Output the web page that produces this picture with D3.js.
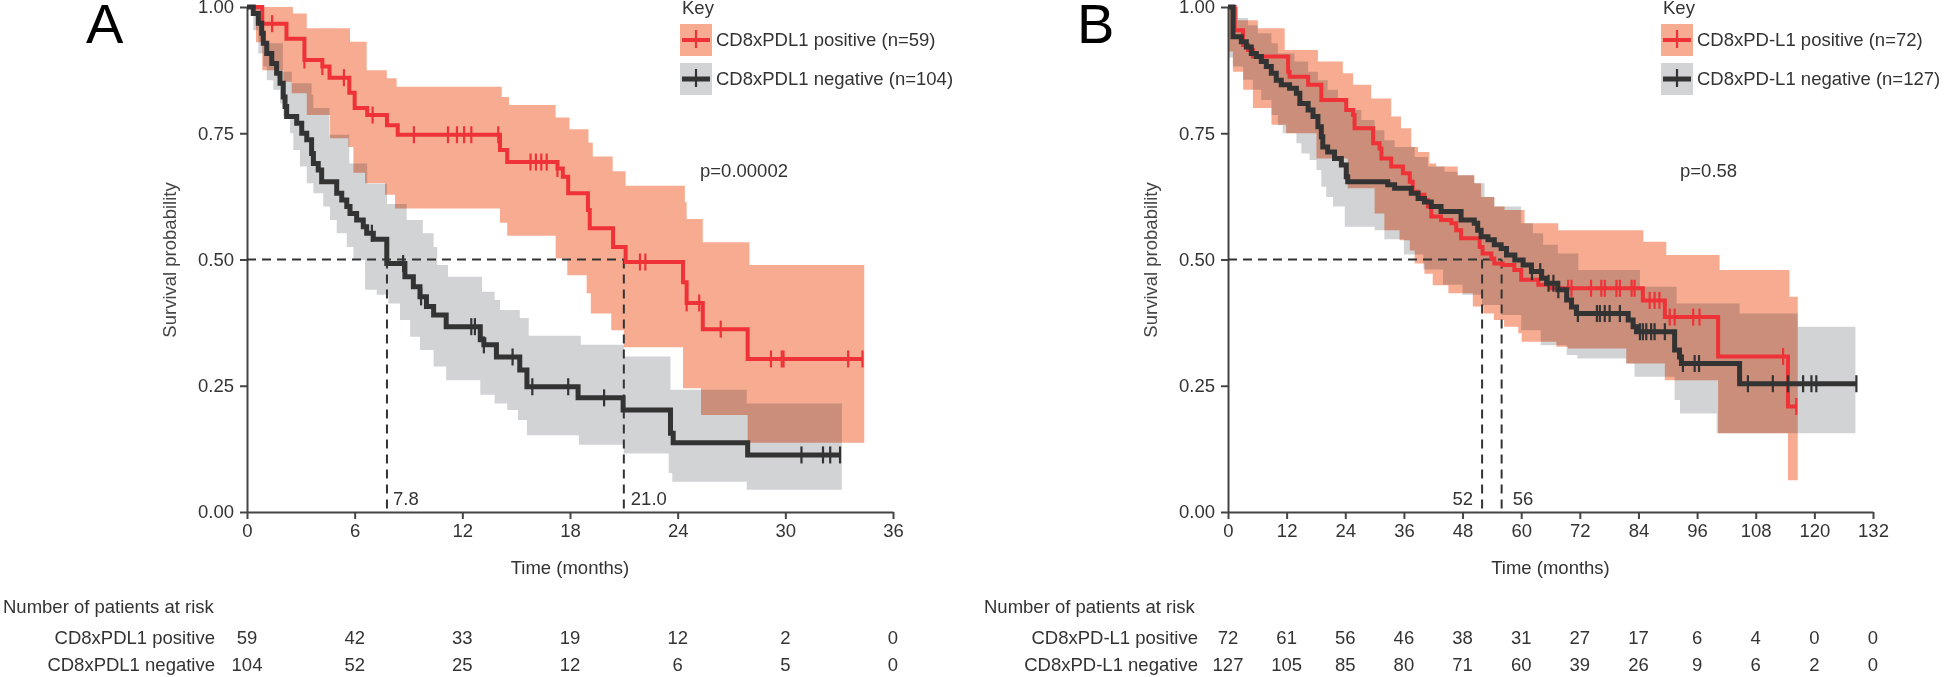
<!DOCTYPE html>
<html><head><meta charset="utf-8">
<script src="https://cdn.jsdelivr.net/npm/d3@7"></script>
<style>
html,body{margin:0;padding:0;background:#fff;}
svg{display:block;background:#fff;font-family:"Liberation Sans",Arial,sans-serif;}
</style></head>
<body>
<svg id="chart" width="1946" height="677"></svg>
<script>
// ---------------- DATA: panel A ----------------
const timeTicksA = [0, 6, 12, 18, 24, 30, 36];
const survTicks = [0, 0.25, 0.5, 0.75, 1];
const labelsA = ["CD8xPDL1 positive (n=59)", "CD8xPDL1 negative (n=104)"];
const riskNamesA = ["CD8xPDL1 positive", "CD8xPDL1 negative"];
const riskPosA = [59, 42, 33, 19, 12, 2, 0];
const riskNegA = [104, 52, 25, 12, 6, 5, 0];
const pValueA = "p=0.00002";
const mediansA = [7.8, 21.0];

const posA_t = [0, 0.85, 2.2, 3.2, 4.2, 4.6, 5.7, 6.0, 6.7, 7.8, 8.4, 14.1, 14.5, 17.3, 17.6, 17.9, 19.0, 19.1, 20.4, 21.1, 24.3, 24.5, 25.4, 27.9];
const posA_s = [1, 0.967, 0.937, 0.895, 0.882, 0.86, 0.83, 0.80, 0.786, 0.766, 0.747, 0.717, 0.693, 0.68, 0.664, 0.631, 0.598, 0.562, 0.525, 0.495, 0.455, 0.414, 0.362, 0.303];
const posA_end = 34.3;
const posA_cens = [1.4, 3.2, 4.2, 5.4, 7.0, 9.3, 11.2, 11.7, 12.1, 12.5, 14.0, 15.8, 16.1, 16.4, 16.7, 17.3, 21.9, 22.2, 24.5, 25.2, 26.4, 29.2, 29.8, 29.9, 33.5, 34.3];
const posA_upT = [0, 2.56, 3.33, 5.74, 6.67, 7.79, 8.34, 14.2, 14.6, 17.2, 17.97, 19.03, 19.27, 20.38, 21.1, 24.4, 24.5, 25.4, 28.0];
const posA_up  = [1, 0.987, 0.958, 0.931, 0.875, 0.859, 0.842, 0.822, 0.806, 0.781, 0.758, 0.731, 0.704, 0.675, 0.646, 0.614, 0.58, 0.534, 0.489];
const posA_loT = [0, 0.5, 0.85, 2.02, 2.49, 3.33, 4.63, 5.65, 5.93, 6.58, 7.69, 8.25, 14.1, 14.5, 17.2, 17.85, 18.93, 19.16, 20.3, 21.0, 24.3, 25.3, 27.9];
const posA_lo  = [1, 0.93, 0.875, 0.852, 0.829, 0.786, 0.74, 0.723, 0.672, 0.651, 0.628, 0.601, 0.573, 0.547, 0.502, 0.469, 0.433, 0.393, 0.360, 0.326, 0.245, 0.192, 0.137];
const posA_bandEnd = 34.4;

const negA_t = [0, 0.35, 0.63, 0.82, 0.91, 1.1, 1.38, 1.65, 1.84, 2.02, 2.12, 2.21, 2.77, 3.05, 3.33, 3.6, 3.7, 3.97, 4.16, 5.0, 5.28, 5.56, 5.74, 6.11, 6.48, 6.67, 7.04, 7.79, 8.8, 9.27, 9.64, 10.0, 10.4, 11.1, 13.0, 13.2, 13.9, 15.2, 15.6, 18.45, 20.96, 23.6, 23.75, 27.9];
const negA_s = [1, 0.987, 0.968, 0.948, 0.928, 0.908, 0.888, 0.869, 0.849, 0.822, 0.803, 0.783, 0.770, 0.750, 0.737, 0.710, 0.690, 0.677, 0.654, 0.631, 0.618, 0.605, 0.591, 0.578, 0.565, 0.552, 0.540, 0.492, 0.466, 0.446, 0.426, 0.407, 0.390, 0.367, 0.341, 0.331, 0.307, 0.281, 0.248, 0.226, 0.202, 0.156, 0.137, 0.113];
const negA_end = 33.05;
const negA_cens = [6.96, 8.7, 9.7, 12.5, 12.7, 13.2, 14.8, 15.9, 17.9, 19.9, 30.9, 32.1, 32.5, 33.05];
const negA_upT = [0, 0.8, 2.0, 2.5, 3.6, 3.7, 4.6, 5.7, 6.7, 7.8, 8.9, 9.8, 10.4, 10.6, 11.2, 13.1, 13.8, 14.1, 15.2, 15.7, 18.6, 21.0, 23.6, 27.85];
const negA_up  = [1, 0.928, 0.872, 0.849, 0.826, 0.80, 0.747, 0.69, 0.65, 0.61, 0.578, 0.552, 0.525, 0.489, 0.466, 0.436, 0.42, 0.40, 0.384, 0.349, 0.331, 0.308, 0.242, 0.215];
const negA_loT = [0, 0.35, 0.63, 0.91, 1.1, 1.47, 1.84, 2.02, 2.4, 2.58, 2.95, 3.33, 3.7, 4.25, 4.63, 5.0, 5.56, 5.93, 6.58, 7.23, 7.88, 8.53, 9.09, 9.64, 10.4, 11.1, 13.0, 13.8, 14.5, 15.1, 15.6, 18.5, 21.0, 23.5, 23.7, 27.85];
const negA_lo  = [1, 0.954, 0.908, 0.882, 0.855, 0.836, 0.809, 0.783, 0.750, 0.717, 0.684, 0.651, 0.631, 0.605, 0.578, 0.552, 0.525, 0.499, 0.440, 0.430, 0.413, 0.380, 0.347, 0.321, 0.288, 0.261, 0.232, 0.215, 0.202, 0.182, 0.152, 0.133, 0.116, 0.077, 0.060, 0.044];
const negA_bandEnd = 33.15;

// ---------------- DATA: panel B ----------------
const timeTicksB = [0, 12, 24, 36, 48, 60, 72, 84, 96, 108, 120, 132];
const labelsB = ["CD8xPD-L1 positive (n=72)", "CD8xPD-L1 negative (n=127)"];
const riskNamesB = ["CD8xPD-L1 positive", "CD8xPD-L1 negative"];
const riskPosB = [72, 61, 56, 46, 38, 31, 27, 17, 6, 4, 0, 0];
const riskNegB = [127, 105, 85, 80, 71, 60, 39, 26, 9, 6, 2, 0];
const pValueB = "p=0.58";
const mediansB = [52, 56];

const posB_t = [0, 1.36, 3.07, 4.09, 5.11, 12.3, 12.6, 16.4, 19.1, 24.2, 25.6, 25.9, 29.7, 31.0, 31.4, 33.4, 35.8, 37.2, 37.8, 38.9, 40.2, 40.9, 41.6, 43.6, 45.7, 46.7, 47.7, 51.5, 52.1, 53.9, 54.5, 56.2, 58.6, 60.0, 63.5, 65.9, 84.9, 89.4, 100.3, 114.6];
const posB_s = [1, 0.954, 0.925, 0.915, 0.902, 0.872, 0.862, 0.846, 0.816, 0.796, 0.786, 0.760, 0.730, 0.720, 0.700, 0.684, 0.671, 0.654, 0.634, 0.628, 0.618, 0.605, 0.585, 0.578, 0.572, 0.558, 0.542, 0.525, 0.512, 0.502, 0.492, 0.489, 0.479, 0.46, 0.45, 0.443, 0.419, 0.386, 0.308, 0.209];
const posB_end = 116.3;
const posB_cens = [69.6, 70.3, 74.3, 76.4, 77.1, 79.5, 80.2, 82.6, 83.2, 86.3, 87.3, 88.3, 90.4, 91.4, 95.2, 96.5, 113.6, 116.3];
const posB_upT = [0, 2.0, 6.1, 11.6, 18.4, 23.5, 25.6, 29.3, 33.4, 35.4, 37.5, 38.9, 41.2, 42.6, 47.0, 50.4, 51.8, 54.5, 56.6, 60.7, 67.6, 85.0, 89.7, 100.6, 114.9];
const posB_up  = [1, 0.974, 0.958, 0.915, 0.892, 0.869, 0.846, 0.819, 0.783, 0.760, 0.723, 0.713, 0.690, 0.684, 0.667, 0.651, 0.624, 0.605, 0.598, 0.572, 0.558, 0.535, 0.509, 0.479, 0.426];
const posB_loT = [0, 1.0, 3.1, 5.1, 8.9, 11.9, 18.1, 24.5, 30.0, 32.0, 35.1, 37.2, 38.2, 40.2, 41.9, 45.1, 50.1, 52.3, 54.4, 56.5, 59.4, 60.1, 67.2, 69.6, 81.5, 89.4, 100.3, 114.6];
const posB_lo  = [0.912, 0.872, 0.836, 0.80, 0.767, 0.75, 0.70, 0.641, 0.591, 0.558, 0.538, 0.518, 0.492, 0.472, 0.449, 0.433, 0.407, 0.393, 0.380, 0.367, 0.354, 0.337, 0.327, 0.324, 0.294, 0.261, 0.156, 0.063];
const posB_bandEnd = 116.6;

const negB_t = [0, 1.02, 2.73, 3.75, 4.77, 5.79, 6.82, 7.84, 8.86, 9.88, 10.9, 12.6, 14.0, 14.7, 16.4, 17.4, 18.4, 19.1, 19.4, 20.4, 21.8, 23.2, 24.2, 24.5, 32.7, 34.1, 37.5, 38.9, 40.2, 41.6, 43.6, 47.7, 50.4, 51.1, 51.8, 53.2, 54.5, 55.9, 57.0, 58.7, 60.4, 62.1, 64.2, 65.2, 67.5, 69.3, 70.3, 71.3, 81.9, 82.9, 83.6, 91.4, 92.4, 92.8, 104.7];
const negB_s = [1, 0.941, 0.931, 0.921, 0.908, 0.902, 0.892, 0.882, 0.869, 0.855, 0.846, 0.839, 0.829, 0.809, 0.796, 0.783, 0.763, 0.743, 0.723, 0.713, 0.700, 0.687, 0.664, 0.654, 0.648, 0.641, 0.631, 0.621, 0.614, 0.605, 0.595, 0.578, 0.572, 0.558, 0.545, 0.539, 0.529, 0.522, 0.509, 0.499, 0.489, 0.476, 0.463, 0.453, 0.440, 0.420, 0.406, 0.393, 0.380, 0.367, 0.357, 0.321, 0.307, 0.294, 0.254];
const negB_end = 128.6;
const negB_cens = [62.2, 63.9, 65.6, 66.6, 67.6, 71.6, 75.5, 76.1, 77.1, 78.1, 80.2, 84.3, 84.9, 85.6, 86.6, 87.3, 89.4, 93.1, 95.5, 96.4, 106.4, 111.5, 114.6, 117.7, 119.4, 120.4, 128.6];
const negB_upT = [0, 2.0, 4.1, 6.1, 8.9, 10.2, 13.6, 16.4, 18.4, 20.4, 22.5, 24.5, 27.3, 30.0, 32.0, 34.1, 38.2, 40.9, 44.3, 47.0, 50.4, 52.5, 54.5, 60.0, 62.4, 64.5, 67.5, 71.7, 84.3, 91.8, 104.7, 116.6];
const negB_up  = [1, 0.978, 0.964, 0.948, 0.928, 0.908, 0.892, 0.872, 0.855, 0.836, 0.816, 0.796, 0.776, 0.756, 0.736, 0.723, 0.703, 0.684, 0.674, 0.667, 0.651, 0.624, 0.605, 0.572, 0.552, 0.529, 0.512, 0.479, 0.446, 0.413, 0.393, 0.367];
const negB_loT = [0, 1.0, 3.1, 5.1, 6.8, 8.9, 10.2, 11.2, 14.0, 15.0, 16.7, 18.1, 19.1, 20.1, 21.5, 23.9, 30.0, 32.0, 36.0, 40.0, 44.0, 48.0, 52.0, 56.0, 60.0, 64.0, 69.3, 71.5, 81.5, 83.2, 91.4, 92.5, 100.0];
const negB_lo  = [0.90, 0.882, 0.856, 0.836, 0.816, 0.786, 0.766, 0.750, 0.730, 0.710, 0.697, 0.677, 0.644, 0.624, 0.605, 0.565, 0.558, 0.54, 0.51, 0.48, 0.45, 0.43, 0.41, 0.39, 0.36, 0.33, 0.311, 0.304, 0.294, 0.268, 0.222, 0.195, 0.156];
const negB_bandEnd = 128.4;

// ---------------- STYLE ----------------
const RED = "#ee3237", RED_BAND = "#f7ac92";
const DARK = "#333333", GRAY_BAND = "#d2d3d5";
const TXT = "#333333", AX = "#444444";
const FS = 18.5;

const svg = d3.select("#chart");
const y = d3.scaleLinear().domain([0, 1]).range([512, 7]);

function stepVal(T, V, t) {
  let v = V[0];
  for (let i = 0; i < T.length; i++) if (T[i] <= t + 1e-9) v = V[i];
  return v;
}

function drawPanel(cfg) {
  const x = d3.scaleLinear().domain(cfg.domain).range(cfg.range);
  const g = svg.append("g");

  // bands
  function band(upT, up, loT, lo, end, color) {
    const ts = Array.from(new Set([...upT, ...loT])).filter(t => t <= end).sort((a, b) => a - b);
    ts.push(end);
    const data = ts.map(t => ({t, hi: stepVal(upT, up, t), lo: stepVal(loT, lo, t)}));
    g.append("path").datum(data)
      .attr("d", d3.area().x(d => x(d.t)).y0(d => y(d.lo)).y1(d => y(d.hi)).curve(d3.curveStepAfter))
      .attr("fill", color).style("mix-blend-mode", "multiply");
  }
  band(cfg.negUpT, cfg.negUp, cfg.negLoT, cfg.negLo, cfg.negBandEnd, GRAY_BAND);
  band(cfg.posUpT, cfg.posUp, cfg.posLoT, cfg.posLo, cfg.posBandEnd, RED_BAND);

  // axes
  const xAxis = d3.axisBottom(x).tickValues(cfg.ticks).tickSize(7).tickSizeOuter(0).tickPadding(5).tickFormat(d3.format("d"));
  const yAxis = d3.axisLeft(y).tickValues(survTicks).tickSize(7).tickSizeOuter(0).tickPadding(6).tickFormat(d3.format(".2f"));
  const gx = g.append("g").attr("transform", "translate(0,512)").call(xAxis);
  const gy = g.append("g").attr("transform", `translate(${cfg.range[0]},0)`).call(yAxis);
  [gx, gy].forEach(a => {
    a.select(".domain").attr("stroke", AX).attr("stroke-width", 2);
    a.selectAll(".tick line").attr("stroke", AX).attr("stroke-width", 2);
    a.selectAll(".tick text").attr("fill", TXT).style("font-size", FS + "px").style("font-family", '"Liberation Sans",Arial,sans-serif');
  });

  // median dashed lines
  const mMax = d3.max(cfg.medians);
  g.append("line").attr("x1", x(0)).attr("x2", x(mMax)).attr("y1", y(0.5)).attr("y2", y(0.5))
    .attr("stroke", DARK).attr("stroke-width", 2).attr("stroke-dasharray", "9,6");
  cfg.medians.forEach(m => {
    g.append("line").attr("x1", x(m)).attr("x2", x(m)).attr("y1", y(0.5)).attr("y2", y(0))
      .attr("stroke", DARK).attr("stroke-width", 2).attr("stroke-dasharray", "9,6");
  });
  cfg.medianLabels.forEach((ml, i) => {
    const m = cfg.medians[i];
    g.append("text").attr("x", x(m) + ml.dx).attr("y", 505).attr("text-anchor", ml.anchor)
      .attr("fill", TXT).style("font-size", FS + "px").text(ml.text);
  });

  // curves
  function curve(T, S, end, cens, color, w) {
    const pts = T.map((t, i) => [t, S[i]]);
    pts.push([end, S[S.length - 1]]);
    g.append("path").datum(pts)
      .attr("d", d3.line().x(d => x(d[0])).y(d => y(d[1])).curve(d3.curveStepAfter))
      .attr("fill", "none").attr("stroke", color).attr("stroke-width", w).attr("stroke-linejoin", "miter");
    g.append("g").selectAll("line").data(cens).join("line")
      .attr("x1", d => x(d)).attr("x2", d => x(d))
      .attr("y1", d => y(stepVal(T, S, d)) - 8.5).attr("y2", d => y(stepVal(T, S, d)) + 8.5)
      .attr("stroke", color).attr("stroke-width", 2.2);
  }
  curve(cfg.posT, cfg.posS, cfg.posEnd, cfg.posCens, RED, 4);
  curve(cfg.negT, cfg.negS, cfg.negEnd, cfg.negCens, DARK, 5);

  // panel letter
  svg.append("text").attr("x", cfg.letterX).attr("y", 43).attr("fill", "#000")
    .style("font-size", "56px").text(cfg.letter);

  // y label
  svg.append("text").attr("transform", `translate(${cfg.yLabelX},260) rotate(-90)`)
    .attr("text-anchor", "middle").attr("fill", "#444").style("font-size", FS + "px").text("Survival probability");
  // x label
  svg.append("text").attr("x", x(cfg.domain[1] / 2)).attr("y", 574).attr("text-anchor", "middle")
    .attr("fill", TXT).style("font-size", FS + "px").text("Time (months)");

  // p-value
  svg.append("text").attr("x", cfg.pX).attr("y", 177).attr("fill", TXT).style("font-size", FS + "px").text(cfg.pText);

  // legend
  const lg = svg.append("g").attr("transform", `translate(${cfg.legX},0)`);
  lg.append("text").attr("x", 2).attr("y", 14).attr("fill", TXT).style("font-size", FS + "px").text("Key");
  const legItems = [
    {label: cfg.labels[0], band: RED_BAND, line: RED, w: 4, y0: 24},
    {label: cfg.labels[1], band: GRAY_BAND, line: DARK, w: 5, y0: 63}
  ];
  legItems.forEach(it => {
    lg.append("rect").attr("x", 0).attr("y", it.y0).attr("width", 32).attr("height", 32).attr("fill", it.band);
    lg.append("line").attr("x1", 2).attr("x2", 30).attr("y1", it.y0 + 16).attr("y2", it.y0 + 16)
      .attr("stroke", it.line).attr("stroke-width", it.w);
    lg.append("line").attr("x1", 16).attr("x2", 16).attr("y1", it.y0 + 6).attr("y2", it.y0 + 24)
      .attr("stroke", it.line).attr("stroke-width", 2.2);
    lg.append("text").attr("x", 36).attr("y", it.y0 + 22).attr("fill", TXT).style("font-size", FS + "px").text(it.label);
  });

  // risk table
  svg.append("text").attr("x", cfg.riskTitleX).attr("y", 613).attr("fill", TXT).style("font-size", FS + "px")
    .text("Number of patients at risk");
  [[cfg.riskNames[0], cfg.riskPos, 644], [cfg.riskNames[1], cfg.riskNeg, 671]].forEach(([name, vals, yy]) => {
    svg.append("text").attr("x", cfg.riskNameX).attr("y", yy).attr("text-anchor", "end")
      .attr("fill", TXT).style("font-size", FS + "px").text(name);
    svg.append("g").selectAll("text").data(vals).join("text")
      .attr("x", (d, i) => x(cfg.ticks[i])).attr("y", yy).attr("text-anchor", "middle")
      .attr("fill", TXT).style("font-size", FS + "px").text(d => d);
  });
}

drawPanel({
  domain: [0, 36], range: [247, 893], ticks: timeTicksA,
  posT: posA_t, posS: posA_s, posEnd: posA_end, posCens: posA_cens,
  posUpT: posA_upT, posUp: posA_up, posLoT: posA_loT, posLo: posA_lo, posBandEnd: posA_bandEnd,
  negT: negA_t, negS: negA_s, negEnd: negA_end, negCens: negA_cens,
  negUpT: negA_upT, negUp: negA_up, negLoT: negA_loT, negLo: negA_lo, negBandEnd: negA_bandEnd,
  medians: mediansA,
  medianLabels: [{text: "7.8", dx: 6, anchor: "start"}, {text: "21.0", dx: 7, anchor: "start"}],
  letter: "A", letterX: 86, yLabelX: 176, pX: 700, pText: pValueA,
  legX: 680, labels: labelsA,
  riskTitleX: 3, riskNameX: 215, riskNames: riskNamesA, riskPos: riskPosA, riskNeg: riskNegA
});

drawPanel({
  domain: [0, 132], range: [1228, 1873], ticks: timeTicksB,
  posT: posB_t, posS: posB_s, posEnd: posB_end, posCens: posB_cens,
  posUpT: posB_upT, posUp: posB_up, posLoT: posB_loT, posLo: posB_lo, posBandEnd: posB_bandEnd,
  negT: negB_t, negS: negB_s, negEnd: negB_end, negCens: negB_cens,
  negUpT: negB_upT, negUp: negB_up, negLoT: negB_loT, negLo: negB_lo, negBandEnd: negB_bandEnd,
  medians: mediansB,
  medianLabels: [{text: "52", dx: -9, anchor: "end"}, {text: "56", dx: 11, anchor: "start"}],
  letter: "B", letterX: 1077, yLabelX: 1157, pX: 1680, pText: pValueB,
  legX: 1661, labels: labelsB,
  riskTitleX: 984, riskNameX: 1198, riskNames: riskNamesB, riskPos: riskPosB, riskNeg: riskNegB
});
</script>
</body></html>
